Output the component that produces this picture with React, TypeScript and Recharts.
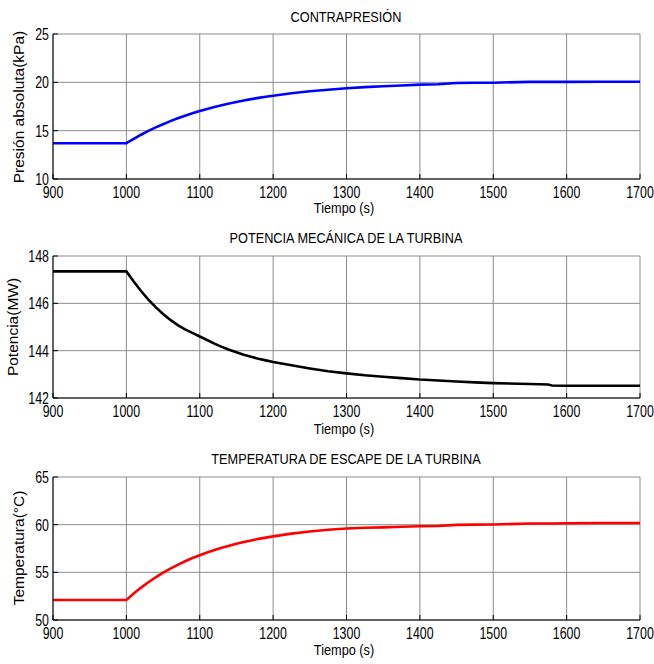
import React from 'react';
import { LineChart, Line, XAxis, YAxis, CartesianGrid } from 'recharts';

const tiempo = [
  900, 1000,
  1010, 1020, 1030, 1040, 1050, 1060, 1070, 1080, 1090, 1100,
  1110, 1120, 1130, 1140, 1150, 1160, 1170, 1180, 1190, 1200,
  1225, 1250, 1275, 1300, 1325, 1350, 1375, 1400, 1425, 1450, 1475, 1500,
  1550, 1575, 1580, 1600, 1650, 1700,
];
const presion = [
  13.7, 13.7,
  14.15, 14.58, 14.97, 15.34, 15.67, 15.99, 16.28, 16.55, 16.8, 17.03,
  17.25, 17.45, 17.64, 17.81, 17.97, 18.12, 18.26, 18.39, 18.5, 18.62,
  18.87, 19.07, 19.24, 19.38, 19.5, 19.59, 19.68, 19.76, 19.8, 19.93, 19.95, 19.96,
  20.05, 20.05, 20.05, 20.05, 20.06, 20.06,
];
const potencia = [
  147.35, 147.35,
  146.92, 146.52, 146.16, 145.84, 145.55, 145.3, 145.08, 144.9, 144.75, 144.6,
  144.45, 144.3, 144.16, 144.04, 143.93, 143.83, 143.74, 143.66, 143.59, 143.52,
  143.38, 143.25, 143.13, 143.04, 142.96, 142.9, 142.84, 142.78, 142.74, 142.7, 142.66, 142.63,
  142.59, 142.57, 142.53, 142.52, 142.52, 142.52,
];
const temperatura = [
  52.1, 52.1,
  52.77, 53.4, 53.96, 54.48, 54.96, 55.39, 55.79, 56.16, 56.5, 56.8,
  57.09, 57.35, 57.59, 57.8, 58.0, 58.18, 58.35, 58.51, 58.64, 58.77,
  59.06, 59.28, 59.46, 59.6, 59.68, 59.72, 59.78, 59.83, 59.86, 59.98, 60.0, 60.02,
  60.12, 60.13, 60.13, 60.15, 60.17, 60.18,
];

const xTicks = [900, 1000, 1100, 1200, 1300, 1400, 1500, 1600, 1700];
const presionTicks = [10, 15, 20, 25];
const potenciaTicks = [142, 144, 146, 148];
const temperaturaTicks = [50, 55, 60, 65];

const titles = ['CONTRAPRESIÓN', 'POTENCIA MECÁNICA DE LA TURBINA', 'TEMPERATURA DE ESCAPE DE LA TURBINA'];
const yLabels = ['Presión absoluta(kPa)', 'Potencia(MW)', 'Temperatura(°C)'];
const xLabel = 'Tiempo (s)';

const data = tiempo.map((t, i) => ({ t, p: presion[i], w: potencia[i], c: temperatura[i] }));

const SANS = '"Liberation Sans", Arial, sans-serif';

const Empty = () => <g />;

const XTick = (props: any) => {
  const { x, y, payload } = props;
  return (
    <text
      transform={`translate(${x},${y + 10}) scale(0.75,1)`}
      textAnchor="middle"
      fontSize={16.5}
      fontFamily={SANS}
      fill="#000"
    >
      {payload.value}
    </text>
  );
};

const YTick = (props: any) => {
  const { x, y, payload } = props;
  return (
    <text
      transform={`translate(${x},${y + 6}) scale(0.75,1)`}
      textAnchor="end"
      fontSize={16.5}
      fontFamily={SANS}
      fill="#000"
    >
      {payload.value}
    </text>
  );
};

type PanelProps = {
  top: number;
  height: number;
  marginTop: number;
  xAxisHeight: number;
  dataKey: string;
  color: string;
  domain: [number, number];
  ticks: number[];
};

function Panel({ top, height, marginTop, xAxisHeight, dataKey, color, domain, ticks }: PanelProps) {
  return (
    <div style={{ position: 'absolute', left: 0, top, width: 654, height }}>
      <LineChart width={654} height={height} data={data} margin={{ top: marginTop, right: 14, bottom: 0, left: 0 }}>
        <CartesianGrid xAxisId="b" yAxisId="l" stroke="#8c8c8c" strokeWidth={1} horizontalValues={ticks} verticalValues={xTicks} />
        <XAxis
          xAxisId="b"
          dataKey="t"
          type="number"
          domain={[900, 1700]}
          ticks={xTicks}
          interval={0}
          height={xAxisHeight}
          stroke="#000"
          tickSize={-5}
          tickMargin={14}
          tick={XTick}
          allowDataOverflow
        />
        <XAxis
          xAxisId="t"
          orientation="top"
          dataKey="t"
          type="number"
          domain={[900, 1700]}
          ticks={xTicks}
          interval={0}
          height={0}
          stroke="#000"
          tickSize={-5}
          tick={Empty}
        />
        <YAxis
          yAxisId="l"
          domain={domain}
          ticks={ticks}
          interval={0}
          width={53}
          stroke="#000"
          tickSize={-5}
          tickMargin={9}
          tick={YTick}
          allowDataOverflow
        />
        <YAxis
          yAxisId="r"
          orientation="right"
          domain={domain}
          ticks={ticks}
          interval={0}
          width={0}
          stroke="#000"
          tickSize={-5}
          tick={Empty}
        />
        <Line
          xAxisId="b"
          yAxisId="l"
          type="linear"
          dataKey={dataKey}
          stroke={color}
          strokeWidth={2.6}
          dot={false}
          isAnimationActive={false}
        />
      </LineChart>
    </div>
  );
}

const textBase: React.CSSProperties = {
  position: 'absolute',
  whiteSpace: 'nowrap',
  lineHeight: 1,
  color: '#000',
};

function Title({ x, y, text }: { x: number; y: number; text: string }) {
  return (
    <div style={{ ...textBase, left: x, top: y, transform: 'translate(-50%, -50%) scaleX(0.82)', fontFamily: SANS, fontSize: 15.5 }}>
      {text}
    </div>
  );
}

function YLabel({ x, y, text }: { x: number; y: number; text: string }) {
  return (
    <div style={{ ...textBase, left: x, top: y, transform: 'translate(-50%, -50%) rotate(-90deg)', fontFamily: SANS, fontSize: 15.5 }}>
      {text}
    </div>
  );
}

export default function App() {
  return (
    <div style={{ position: 'absolute', left: 0, top: 0, width: 654, height: 664, background: '#fff', overflow: 'hidden' }}>
      <Panel top={0} height={221} marginTop={34} xAxisHeight={42} dataKey="p" color="#0000ff" domain={[10, 25]} ticks={presionTicks} />
      <Panel top={221} height={221} marginTop={35} xAxisHeight={44} dataKey="w" color="#000000" domain={[142, 148]} ticks={potenciaTicks} />
      <Panel top={442} height={222} marginTop={35} xAxisHeight={44} dataKey="c" color="#ff0000" domain={[50, 65]} ticks={temperaturaTicks} />

      <Title x={346} y={16.5} text={titles[0]} />
      <Title x={346} y={237.5} text={titles[1]} />
      <Title x={346} y={458.5} text={titles[2]} />

      <Title x={344} y={208} text={xLabel} />
      <Title x={344} y={429} text={xLabel} />
      <Title x={344} y={650} text={xLabel} />

      <YLabel x={19} y={107} text={yLabels[0]} />
      <YLabel x={12.5} y={327} text={yLabels[1]} />
      <YLabel x={19} y={548} text={yLabels[2]} />
    </div>
  );
}
